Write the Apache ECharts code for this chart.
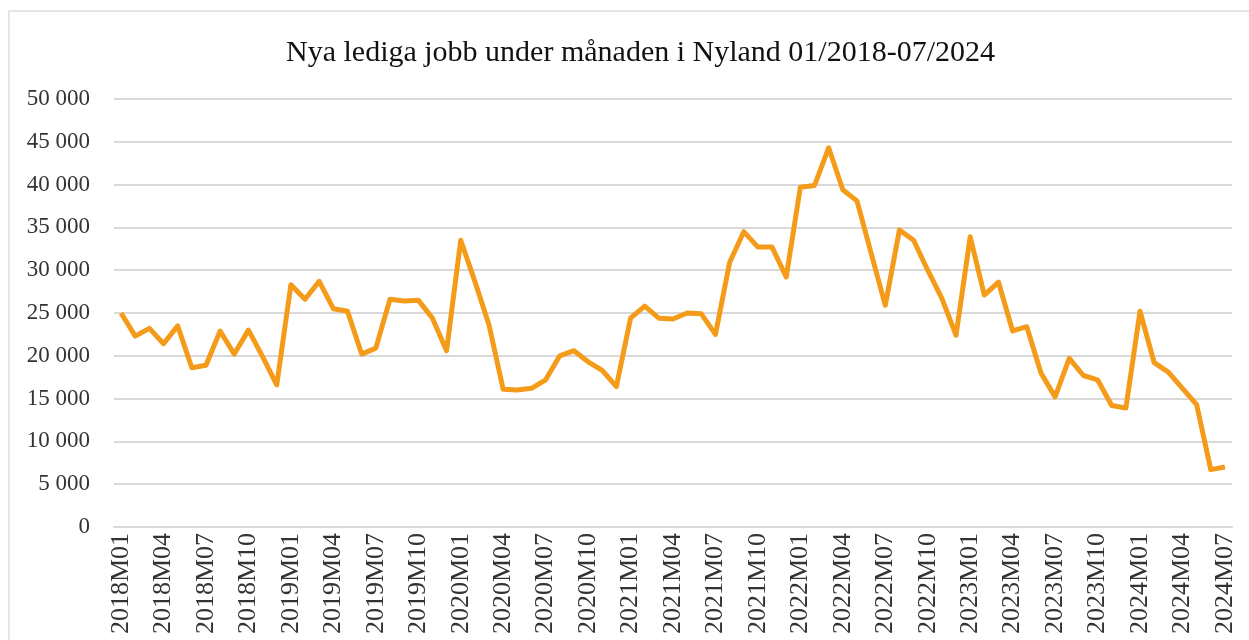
<!DOCTYPE html>
<html>
<head>
<meta charset="utf-8">
<script src="https://cdn.jsdelivr.net/npm/echarts@6/dist/echarts.min.js"></script>
<style>
  html, body { margin: 0; padding: 0; background: #fff; }
  #frame { position: absolute; left: 8px; top: 10px; width: 1241px; height: 630px;
           border-top: 2px solid #e6e6e6; border-left: 2px solid #e6e6e6; box-sizing: border-box; }
  #chart { width: 1249px; height: 640px; }
</style>
</head>
<body>
<div id="frame"></div>
<div id="chart"></div>
<script>
// kuukaudet 2018M01 - 2024M07
const months = [];
for (let y = 2018; y <= 2024; y++) {
  for (let m = 1; m <= 12; m++) {
    if (y === 2024 && m > 7) break;
    months.push(y + 'M' + (m < 10 ? '0' + m : m));
  }
}

const jobs2018 = [25000, 22300, 23200, 21400, 23500, 18600, 18900, 22900, 20200, 23000, 19900, 16600];
const jobs2019 = [28300, 26600, 28700, 25500, 25200, 20200, 20900, 26600, 26400, 26500, 24400, 20600];
const jobs2020 = [33500, 28700, 23600, 16100, 16000, 16200, 17200, 20000, 20600, 19300, 18300, 16400];
const jobs2021 = [24400, 25800, 24400, 24300, 25000, 24900, 22500, 30900, 34500, 32700, 32700, 29200];
const jobs2022 = [39700, 39900, 44300, 39400, 38100, 32000, 25900, 34700, 33500, 30000, 26700, 22400];
const jobs2023 = [33900, 27100, 28600, 22900, 23400, 18000, 15200, 19700, 17700, 17200, 14200, 13900];
const jobs2024 = [25200, 19200, 18100, 16200, 14300, 6700, 7000];

const values = [].concat(jobs2018, jobs2019, jobs2020, jobs2021, jobs2022, jobs2023, jobs2024);

const fmt = (v) => String(v).replace(/\B(?=(\d{3})+(?!\d))/g, ' ');

const chart = echarts.init(document.getElementById('chart'));
const option = {
  backgroundColor: 'transparent',
  animation: false,
  title: {
    text: 'Nya lediga jobb under månaden i Nyland 01/2018-07/2024',
    left: 281,
    top: 33,
    textStyle: {
      fontFamily: 'Liberation Serif',
      fontSize: 30,
      fontWeight: 'normal',
      color: '#111'
    }
  },
  grid: {
    left: 114,
    right: 17,
    top: 99,
    bottom: 113,
    containLabel: false
  },
  xAxis: {
    type: 'category',
    data: months,
    boundaryGap: true,
    axisLine: { lineStyle: { color: '#d9d9d9', width: 2 } },
    axisTick: { show: false },
    axisLabel: {
      interval: 2,
      rotate: 90,
      margin: 6,
      fontFamily: 'Liberation Serif',
      fontSize: 26,
      color: '#333'
    }
  },
  yAxis: {
    type: 'value',
    min: 0,
    max: 50000,
    interval: 5000,
    axisLine: { show: false },
    axisTick: { show: false },
    splitLine: { lineStyle: { color: '#d9d9d9', width: 2 } },
    axisLabel: {
      margin: 24,
      fontFamily: 'Liberation Serif',
      fontSize: 23,
      color: '#333',
      formatter: fmt
    }
  },
  series: [{
    type: 'line',
    data: values,
    symbol: 'none',
    lineStyle: { color: '#F59B1A', width: 5, join: 'round' },
    itemStyle: { color: '#F59B1A' }
  }]
};
chart.setOption(option);
</script>
</body>
</html>
